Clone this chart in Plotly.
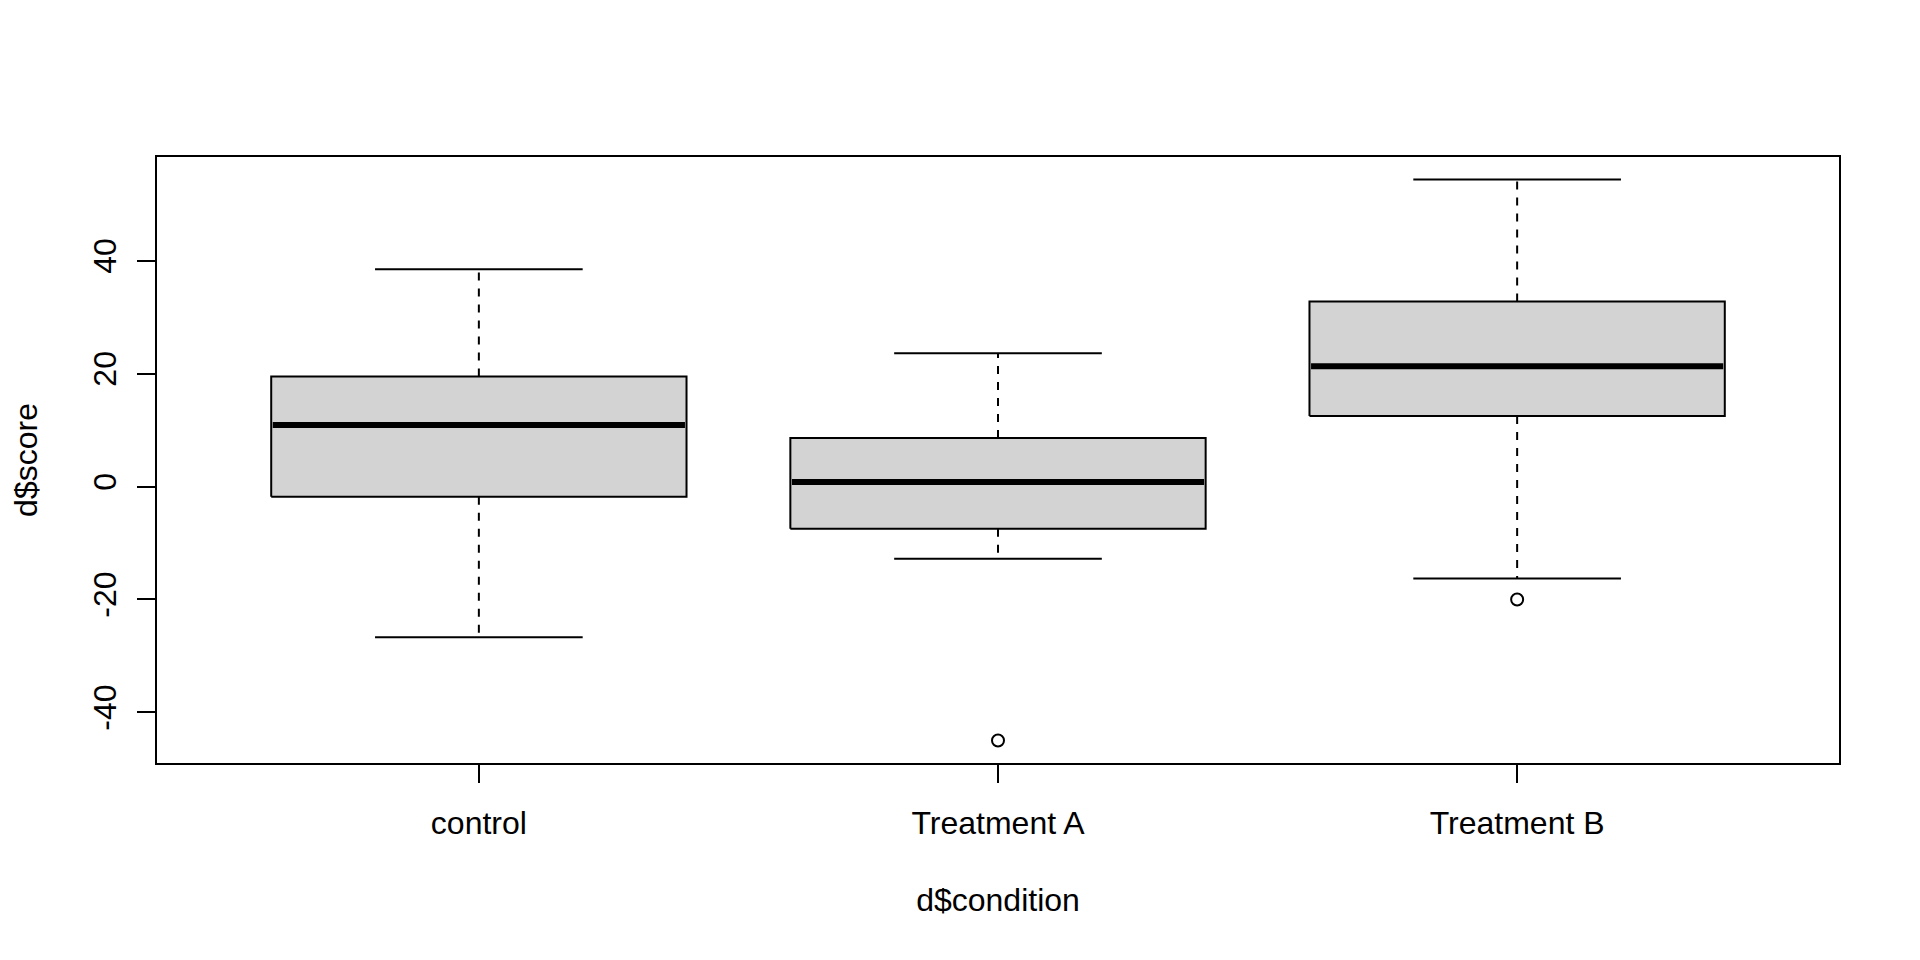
import plotly.graph_objects as go

# Data (five-number summaries + outliers)
categories = ["control", "Treatment A", "Treatment B"]
lower_whisker = [-26.7, -12.8, -16.3]
q1_values = [-1.8, -7.5, 12.5]
median_values = [10.9, 0.8, 21.3]
q3_values = [19.5, 8.6, 32.8]
upper_whisker = [38.5, 23.6, 54.4]
outlier_groups = [[], [-45.0], [-20.0]]
y_ticks = [-40, -20, 0, 20, 40]

BOX_HALF = 0.4
CAP_HALF = 0.2
FONT = "Liberation Sans, Arial, sans-serif"

fig = go.Figure()

wx, wy, cx, cy = [], [], [], []
for i, cat in enumerate(categories):
    p = i + 1
    # whiskers (dashed)
    wx += [p, p, None, p, p, None]
    wy += [q3_values[i], upper_whisker[i], None, q1_values[i], lower_whisker[i], None]
    # caps
    cx += [p - CAP_HALF, p + CAP_HALF, None, p - CAP_HALF, p + CAP_HALF, None]
    cy += [upper_whisker[i], upper_whisker[i], None, lower_whisker[i], lower_whisker[i], None]

fig.add_trace(go.Scatter(x=wx, y=wy, mode="lines",
                         line=dict(color="black", width=2, dash="8px,8px"),
                         hoverinfo="skip", showlegend=False))
fig.add_trace(go.Scatter(x=cx, y=cy, mode="lines",
                         line=dict(color="black", width=2),
                         hoverinfo="skip", showlegend=False))

for i, cat in enumerate(categories):
    p = i + 1
    fig.add_trace(go.Scatter(
        x=[p - BOX_HALF, p + BOX_HALF, p + BOX_HALF, p - BOX_HALF, p - BOX_HALF],
        y=[q1_values[i], q1_values[i], q3_values[i], q3_values[i], q1_values[i]],
        mode="lines", fill="toself", fillcolor="#D3D3D3",
        line=dict(color="black", width=2), name=cat, showlegend=False))
    fig.add_trace(go.Scatter(
        x=[p - BOX_HALF + 0.003, p + BOX_HALF - 0.003],
        y=[median_values[i], median_values[i]],
        mode="lines", line=dict(color="black", width=6),
        showlegend=False, hoverinfo="skip"))

ox, oy = [], []
for i, outs in enumerate(outlier_groups):
    for v in outs:
        ox.append(i + 1)
        oy.append(v)
fig.add_trace(go.Scatter(x=ox, y=oy, mode="markers",
                         marker=dict(symbol="circle-open", size=12,
                                     color="black", line=dict(width=2, color="black")),
                         showlegend=False))

all_vals = lower_whisker + upper_whisker + [v for g in outlier_groups for v in g]
ymin, ymax = min(all_vals), max(all_vals)
pad = 0.04 * (ymax - ymin)

fig.update_layout(
    width=1920, height=960,
    paper_bgcolor="white", plot_bgcolor="white",
    margin=dict(l=149, r=89, t=149, b=205),
    font=dict(family=FONT, size=32, color="black"),
    showlegend=False,
)
fig.update_xaxes(
    range=[0.5 - 0.12, len(categories) + 0.5 + 0.12],
    tickvals=list(range(1, len(categories) + 1)), ticktext=categories,
    ticks="outside", ticklen=18, tickwidth=2, tickcolor="black",
    showline=True, linecolor="black", linewidth=2, mirror=True,
    showgrid=False, zeroline=False,
    tickfont=dict(family=FONT, size=32, color="black"),
    ticklabelstandoff=13,
    title=dict(text="d$condition", font=dict(family=FONT, size=32), standoff=48),
)
fig.update_yaxes(
    range=[ymin - pad, ymax + pad],
    tickvals=y_ticks, ticktext=[str(t) for t in y_ticks],
    tickangle=-90,
    ticks="outside", ticklen=18, tickwidth=2, tickcolor="black",
    showline=True, linecolor="black", linewidth=2, mirror=True,
    showgrid=False, zeroline=False,
    tickfont=dict(family=FONT, size=32, color="black"),
    ticklabelstandoff=8,
    title=dict(text="d$score", font=dict(family=FONT, size=32), standoff=41),
)

fig.write_html("out.html")
